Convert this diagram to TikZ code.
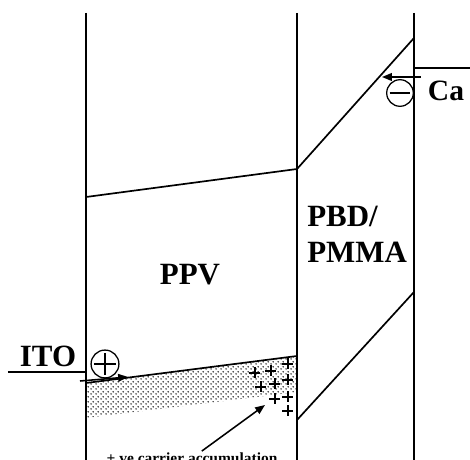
\documentclass[tikz,border=0pt]{standalone}
\usepackage{fontspec}
\setmainfont{Liberation Serif}
\usetikzlibrary{arrows.meta, positioning, patterns}

% coarse dot screen for the accumulation zone
\pgfdeclarepatternformonly{screendots}{\pgfqpoint{0pt}{0pt}}{\pgfqpoint{3.6pt}{3.6pt}}{\pgfqpoint{3.6pt}{3.6pt}}{%
  \pgfpathcircle{\pgfqpoint{0.9pt}{0.9pt}}{0.65pt}%
  \pgfpathcircle{\pgfqpoint{2.7pt}{2.7pt}}{0.65pt}%
  \pgfusepath{fill}}

\tikzset{
  wall/.style={line width=1.3pt},
  level/.style={line width=1.2pt},
  layername/.style={font=\bfseries\fontsize{22}{25.5}\selectfont, inner sep=0pt},
  charge/.style={circle, draw, line width=0.9pt, inner sep=0pt},
  plusmark/.style={line width=0.9pt},
  inject/.style={-{Triangle[length=7pt,width=5.5pt]}, line width=1.1pt},
  note/.style={font=\bfseries\fontsize{11}{12}\selectfont, inner sep=1pt}
}

\begin{document}
\begin{tikzpicture}[x=0.025cm, y=-0.025cm]
  \useasboundingbox (0,0) rectangle (470,460);
  \clip (0,0) rectangle (470,460);

  % hole accumulation at the PPV side of the interface
  \fill[pattern=screendots, pattern color=black!90]
    (86,383) -- (297,356) -- (297,392) -- (86,418) -- cycle;

  % layer walls
  \draw[wall] (86,13) -- (86,460);
  \draw[wall] (297,13) -- (297,460);
  \draw[wall] (414,13) -- (414,460);

  % electrode levels
  \draw[level] (8,372) -- (86,372);
  \draw[level] (414,68) -- (470,68);

  % LUMO and HOMO
  \draw[level] (86,197) -- (297,169) -- (414,38);
  \draw[level] (86,383) -- (297,356);
  \draw[level] (297,420) -- (414,292);

  % labels
  \node[layername, anchor=base] (ppv) at (190,285) {PPV};
  \node[layername, anchor=north west, align=left] (pbd) at (307,206) {PBD/\\PMMA};
  \node[layername, anchor=base] (ito) at (48,367) {ITO};
  \node[layername, anchor=base, font=\bfseries\fontsize{21}{24}\selectfont] (ca) at (446,100) {Ca};

  % charges
  \node[charge, minimum size=22\pgflinewidth] (hole) at (105,364) {};
  \draw[line width=0.9pt] ([xshift=2.5pt]hole.west) -- ([xshift=-2.5pt]hole.east)
    ([yshift=-2.5pt]hole.north) -- ([yshift=2.5pt]hole.south);
  \node[charge, minimum width=19\pgflinewidth, minimum height=21\pgflinewidth] (elec) at (400,93) {};
  \draw[line width=0.9pt] ([xshift=2.5pt]elec.west) -- ([xshift=-2.5pt]elec.east);

  % injection
  \coordinate (itostart) at (80,381);
  \coordinate (itoend) at (128,377);
  \draw[inject] (itostart) -- (itoend);
  \coordinate (castart) at (421,77);
  \coordinate (caend) at (382,77);
  \draw[inject] (castart) -- (caend);

  % accumulated holes
  \foreach \px/\py in {255/373, 271/371, 288/364, 288/380, 261/387, 275/384,
                       275/399, 288/397, 288/411}
    \draw[plusmark] (\px-5.5,\py) -- (\px+5.5,\py) (\px,\py-5.5) -- (\px,\py+5.5);

  \node[note, anchor=base] (acc) at (192,463.5) {+ ve carrier accumulation};
  \coordinate (acctip) at (265,405);
  \draw[inject] (acc) -- (acctip);
\end{tikzpicture}
\end{document}
